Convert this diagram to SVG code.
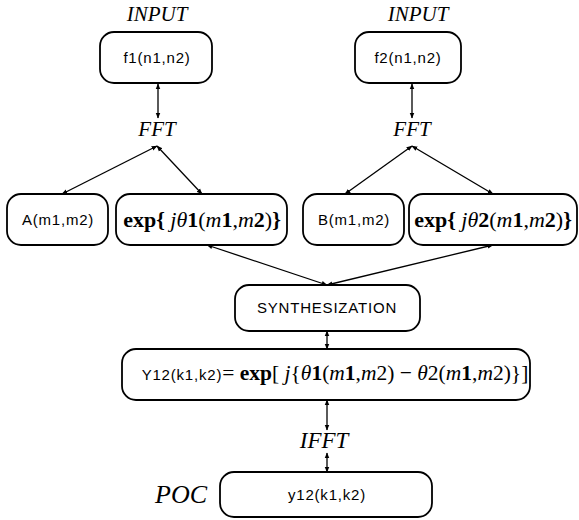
<svg xmlns="http://www.w3.org/2000/svg" width="579" height="520" viewBox="0 0 579 520">
<defs>
<marker id="ah" viewBox="0 0 10 10" refX="9" refY="5" markerWidth="6" markerHeight="6" markerUnits="userSpaceOnUse" orient="auto-start-reverse">
<path d="M0,1 L10,5 L0,9 z" fill="#000"/>
</marker>
<style>
.box{fill:#fff;stroke:#000;stroke-width:1.8}
.lbl{font-family:"Liberation Sans",Arial,sans-serif;font-size:15px;letter-spacing:0.8px;text-anchor:middle;fill:#000}
.it{font-family:"Liberation Serif","Times New Roman",serif;font-style:italic;font-size:21px;text-anchor:middle;fill:#000}
.math{font-family:"Liberation Serif","Times New Roman",serif;font-size:22px;text-anchor:middle;fill:#000}
.b{font-weight:bold}
.i{font-style:italic}
.con{stroke:#000;stroke-width:1.3;fill:none;marker-start:url(#ah);marker-end:url(#ah)}
</style>
</defs>
<rect width="579" height="520" fill="#fff"/>
<text class="it" x="157" y="21">INPUT</text>
<text class="it" x="418" y="21">INPUT</text>
<text class="it" x="157" y="136">FFT</text>
<text class="it" x="412" y="136">FFT</text>
<text class="it" x="324" y="448" style="font-size:23px">IFFT</text>
<text class="it" x="181" y="503" style="font-size:26px">POC</text>
<g id="connectors">
<line class="con" x1="158" y1="84" x2="158" y2="118"/>
<line class="con" x1="157" y1="146" x2="62" y2="194"/>
<line class="con" x1="157" y1="146" x2="202" y2="194"/>
<line class="con" x1="412" y1="84" x2="412" y2="118"/>
<line class="con" x1="412" y1="146" x2="345" y2="194"/>
<line class="con" x1="412" y1="146" x2="493" y2="194"/>
<line class="con" x1="207" y1="245" x2="327" y2="285"/>
<line class="con" x1="493" y1="245" x2="327" y2="285"/>
<line class="con" x1="327" y1="331" x2="327" y2="349"/>
<line class="con" x1="327" y1="400" x2="327" y2="430"/>
<line class="con" x1="327" y1="472" x2="327" y2="453"/>
</g>
<g id="f1">
<rect class="box" x="100" y="32" width="112" height="51" rx="14"/>
<text class="lbl" x="157" y="63">f1(n1,n2)</text>
</g>
<g id="f2">
<rect class="box" x="355" y="32" width="106" height="51" rx="14"/>
<text class="lbl" x="408" y="63">f2(n1,n2)</text>
</g>
<g id="A">
<rect class="box" x="7" y="194" width="101" height="51" rx="14"/>
<text class="lbl" x="58" y="225">A(m1,m2)</text>
</g>
<g id="exp1">
<rect class="box" x="116" y="194" width="171" height="51" rx="14"/>
<text class="math" x="202" y="227"><tspan class="b">exp{ </tspan><tspan class="i">jθ</tspan><tspan class="b">1</tspan>(<tspan class="i">m</tspan><tspan class="b">1</tspan>,<tspan class="i">m</tspan><tspan class="b">2</tspan>)<tspan class="b">}</tspan></text>
</g>
<g id="B">
<rect class="box" x="303" y="194" width="101" height="51" rx="14"/>
<text class="lbl" x="354" y="225">B(m1,m2)</text>
</g>
<g id="exp2">
<rect class="box" x="409" y="194" width="168" height="51" rx="14"/>
<text class="math" x="493" y="227"><tspan class="b">exp{ </tspan><tspan class="i">jθ</tspan><tspan class="b">2</tspan>(<tspan class="i">m</tspan><tspan class="b">1</tspan>,<tspan class="i">m</tspan><tspan class="b">2</tspan>)<tspan class="b">}</tspan></text>
</g>
<g id="synth">
<rect class="box" x="235" y="285" width="185" height="46" rx="14"/>
<text class="lbl" x="327" y="313" style="letter-spacing:0.8px">SYNTHESIZATION</text>
</g>
<g id="Y12">
<rect class="box" x="122" y="349" width="408" height="51" rx="14"/>
<text class="math" x="335" y="380" style="font-size:21.5px"><tspan style="font-family:'Liberation Sans',Arial,sans-serif;font-size:15px;letter-spacing:0.8px">Y12(k1,k2)</tspan>= <tspan class="b">exp</tspan>[ <tspan class="i">j</tspan>{<tspan class="i">θ</tspan><tspan class="b">1</tspan>(<tspan class="i">m</tspan><tspan class="b">1</tspan>,<tspan class="i">m</tspan>2) − <tspan class="i">θ</tspan>2(<tspan class="i">m</tspan><tspan class="b">1</tspan>,<tspan class="i">m</tspan>2)}]</text>
</g>
<g id="y12">
<rect class="box" x="220" y="472" width="212" height="45" rx="14"/>
<text class="lbl" x="327" y="500">y12(k1,k2)</text>
</g>
</svg>
